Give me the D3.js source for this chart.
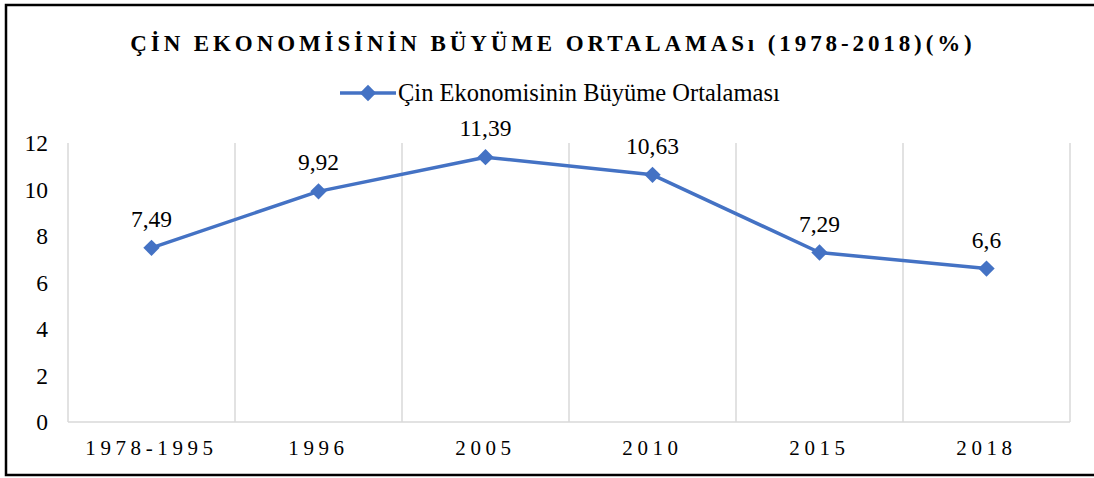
<!DOCTYPE html>
<html>
<head>
<meta charset="utf-8">
<script src="https://cdn.jsdelivr.net/npm/d3@7"></script>
<style>
  body { margin: 0; background: #fff; }
  svg text { font-family: 'Times New Roman', 'Liberation Serif', 'DejaVu Serif', serif; fill: #000; }
</style>
</head>
<body>
<svg width="1094" height="478"></svg>
<script>
let width = 1094;
let height = 478;

const title = 'ÇİN EKONOMİSİNİN BÜYÜME ORTALAMASı (1978-2018)(%)';
const seriesName = 'Çin Ekonomisinin Büyüme Ortalaması';
const categories = ['1978-1995', '1996', '2005', '2010', '2015', '2018'];
const values = [7.49, 9.92, 11.39, 10.63, 7.29, 6.6];
const labels = ['7,49', '9,92', '11,39', '10,63', '7,29', '6,6'];
const yTicks = [0, 2, 4, 6, 8, 10, 12];

const blue = '#4472c4';
const margin = {left: 68, right: 24, top: 143, bottom: 56};

let svg = d3.select('svg');

// outer frame
svg.append('rect')
  .attr('x', 6).attr('y', 5)
  .attr('width', 1094).attr('height', 470)
  .attr('fill', 'none')
  .attr('stroke', '#000')
  .attr('stroke-width', 2.5)
  ;

svg.append('text')
  .attr('x', 553).attr('y', 51)
  .attr('text-anchor', 'middle')
  .attr('font-size', 23)
  .attr('font-weight', 'bold')
  .attr('letter-spacing', 3.9)
  .text(title)
  ;

let x = d3.scaleBand()
  .domain(categories)
  .range([margin.left, width - margin.right])
  ;
let y = d3.scaleLinear()
  .domain([0, 12])
  .range([height - margin.bottom, margin.top])
  ;

// vertical gridlines on category boundaries
let bounds = categories.map(c => x(c)).concat([x.range()[1]]);
svg.append('g')
  .selectAll('line')
  .data(bounds)
  .enter()
    .append('line')
    .attr('x1', d => d).attr('x2', d => d)
    .attr('y1', y(12)).attr('y2', y(0))
    .attr('stroke', '#d9d9d9')
    .attr('stroke-width', 1.5)
  ;
svg.append('line')
  .attr('x1', x.range()[0]).attr('x2', x.range()[1])
  .attr('y1', y(0)).attr('y2', y(0))
  .attr('stroke', '#d9d9d9')
  .attr('stroke-width', 1.5)
  ;

let yAxis = svg.append('g')
  .attr('transform', `translate(${margin.left - 20},0)`)
  .call(d3.axisLeft(y).tickValues(yTicks).tickSize(0).tickPadding(0));
yAxis.select('.domain').remove();
yAxis.attr('font-family', null);
yAxis.selectAll('text')
  .attr('font-size', 23.5)
  ;

let xAxis = svg.append('g')
  .attr('transform', `translate(0,${y(0) + 18})`)
  .call(d3.axisBottom(x).tickSize(0).tickPadding(0));
xAxis.select('.domain').remove();
xAxis.attr('font-family', null);
xAxis.selectAll('text')
  .attr('font-size', 21)
  .attr('letter-spacing', 4.6)
  ;

let pts = categories.map((c, i) => [x(c) + x.bandwidth() / 2, y(values[i])]);

svg.append('path')
  .datum(pts)
  .attr('d', d3.line())
  .attr('fill', 'none')
  .attr('stroke', blue)
  .attr('stroke-width', 3.5)
  .attr('stroke-linejoin', 'round')
  ;

let diamond = d3.symbol().type(d3.symbolDiamond2).size(170);
svg.append('g')
  .selectAll('path')
  .data(pts)
  .enter()
    .append('path')
    .attr('transform', d => `translate(${d[0]},${d[1]})`)
    .attr('d', diamond)
    .attr('fill', blue)
  ;

svg.append('g')
  .selectAll('text')
  .data(pts)
  .enter()
    .append('text')
    .attr('x', d => d[0])
    .attr('y', d => d[1] - 21)
    .attr('text-anchor', 'middle')
    .attr('font-size', 23.5)
    .text((d, i) => labels[i])
  ;

// legend
let lg = svg.append('g').attr('transform', 'translate(340,93)');
lg.append('line')
  .attr('x1', 0).attr('x2', 56)
  .attr('stroke', blue)
  .attr('stroke-width', 3.5)
  ;
lg.append('path')
  .attr('transform', 'translate(28,0)')
  .attr('d', diamond)
  .attr('fill', blue)
  ;
lg.append('text')
  .attr('x', 58).attr('y', 8)
  .attr('font-size', 24.5)
  .text(seriesName)
  ;
</script>
</body>
</html>
